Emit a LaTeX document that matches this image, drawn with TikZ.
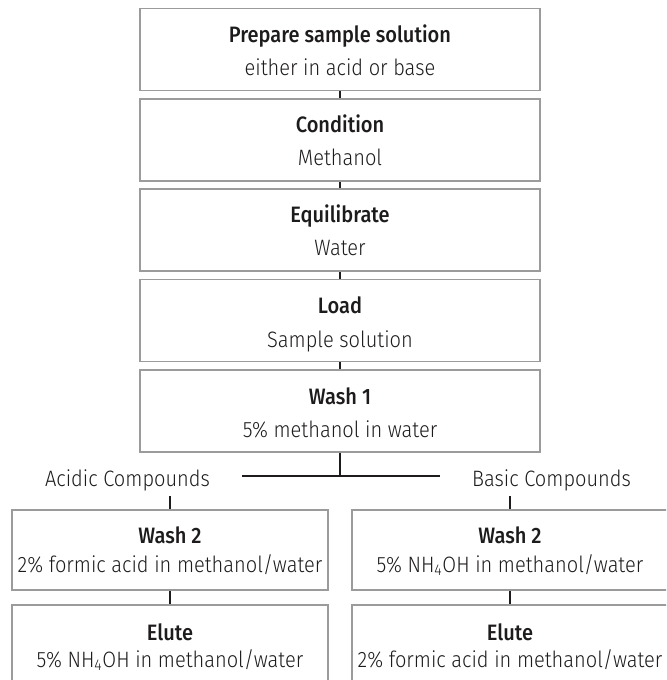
\documentclass[tikz,border=0pt]{standalone}
\usepackage{fontspec}
\setmainfont{Fira Sans Light}[BoldFont={Fira Sans Medium}, FakeStretch=0.9]
\definecolor{boxgray}{HTML}{9B9B9B}
\definecolor{ink}{HTML}{1E1B1C}
\tikzset{
  mainbox/.style={draw=boxgray, line width=1.2pt, minimum width=300pt, minimum height=61.5pt, inner sep=0pt},
  subbox/.style={draw=boxgray, line width=1.2pt, minimum width=237pt, minimum height=60pt, inner sep=0pt},
  ttl/.style={anchor=base, font=\bfseries\fontsize{16.7}{20}\selectfont, text=ink, inner sep=0pt},
  subt/.style={anchor=base, font=\fontsize{16.7}{20}\selectfont, text=ink, inner sep=0pt},
  conn/.style={draw=ink, line width=1.5pt},
}
\begin{document}
\begin{tikzpicture}[x=0.75pt,y=-0.75pt]
\useasboundingbox (0,0) rectangle (666,680);
\clip (0,0) rectangle (666,680);
% main column
\node[mainbox] (b1) at (340,49.5) {};
\node[ttl] (t1) at (340,43) {Prepare sample solution};
\node[subt] (s1) at (340,76) {either in acid or base};
\node[mainbox] (b2) at (340,140) {};
\node[ttl] (t2) at (340,133) {Condition};
\node[subt] (s2) at (340,166) {Methanol};
\node[mainbox] (b3) at (340,230) {};
\node[ttl] (t3) at (340,223) {Equilibrate};
\node[subt] (s3) at (340,256) {Water};
\node[mainbox] (b4) at (340,320.5) {};
\node[ttl] (t4) at (340,314) {Load};
\node[subt] (s4) at (340,347) {Sample solution};
\node[mainbox] (b5) at (340,411) {};
\node[ttl] (t5) at (340,404) {Wash 1};
\node[subt] (s5) at (340,437) {5\% methanol in water};
\draw[conn] (b1.south) -- (b2.north);
\draw[conn] (b2.south) -- (b3.north);
\draw[conn] (b3.south) -- (b4.north);
\draw[conn] (b4.south) -- (b5.north);
% branch
\coordinate (j) at (340,476);
\coordinate (hl) at (242,476);
\coordinate (hr) at (440,476);
\draw[conn] (b5.south) -- (j);
\draw[conn] (hl) -- (hr);
\node[subt] (acid) at (127.5,486) {Acidic Compounds};
\node[subt] (basic) at (551.5,486) {Basic Compounds};
% left column
\node[subbox] (l1) at (170,550) {};
\node[ttl] (lt1) at (170,543) {Wash 2};
\node[subt] (ls1) at (170,572) {2\% formic acid in methanol/water};
\node[subbox] (l2) at (170,645) {};
\node[ttl] (lt2) at (170,640) {Elute};
\node[subt] (ls2) at (170,667) {5\% NH\textsubscript{4}OH in methanol/water};
% right column
\node[subbox] (r1) at (510,550) {};
\node[ttl] (rt1) at (510,543) {Wash 2};
\node[subt] (rs1) at (510,572) {5\% NH\textsubscript{4}OH in methanol/water};
\node[subbox] (r2) at (510,645) {};
\node[ttl] (rt2) at (510,640) {Elute};
\node[subt] (rs2) at (510,667) {2\% formic acid in methanol/water};
\draw[conn] ([yshift=-4pt]acid.south -| l1.north) -- (l1.north);
\draw[conn] ([yshift=-4pt]basic.south -| r1.north) -- (r1.north);
\draw[conn] (l1.south) -- (l2.north);
\draw[conn] (r1.south) -- (r2.north);
\end{tikzpicture}
\end{document}
